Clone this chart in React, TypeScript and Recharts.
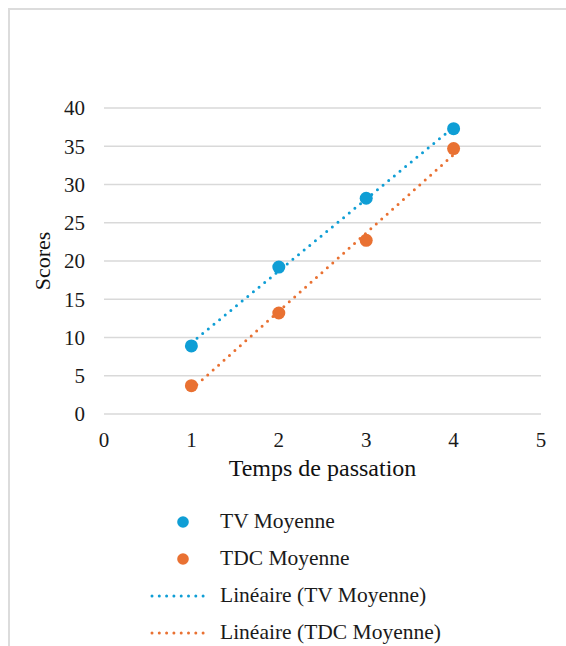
import {
  ComposedChart,
  Scatter,
  Line,
  XAxis,
  YAxis,
  CartesianGrid,
  Legend,
} from 'recharts';

// Temps de passation (x) and mean scores
const passations = [1, 2, 3, 4];
const tvMoyenne = [8.9, 19.2, 28.2, 37.3];
const tdcMoyenne = [3.7, 13.2, 22.7, 34.7];

// linear trendlines, end points
const trendX = [1, 4];
const tvTrend = [9.3, 37.5];
const tdcTrend = [3.2, 33.9];

const xTicks = [0, 1, 2, 3, 4, 5];
const yTicks = [0, 5, 10, 15, 20, 25, 30, 35, 40];

const BLUE = '#0F9ED5';
const ORANGE = '#E97132';
const FONT = "'Liberation Serif', 'DejaVu Serif', serif";

const toPoints = (xs: number[], ys: number[]) =>
  xs.map((x, i) => ({ x, y: ys[i] }));

const tvData = toPoints(passations, tvMoyenne);
const tdcData = toPoints(passations, tdcMoyenne);
const tvTrendData = toPoints(trendX, tvTrend);
const tdcTrendData = toPoints(trendX, tdcTrend);

const legendItems = [
  { name: 'TV Moyenne', color: BLUE, kind: 'dot' },
  { name: 'TDC Moyenne', color: ORANGE, kind: 'dot' },
  { name: 'Linéaire (TV Moyenne)', color: BLUE, kind: 'line' },
  { name: 'Linéaire (TDC Moyenne)', color: ORANGE, kind: 'line' },
];

const dotShape = (color: string) => (props: any) =>
  <circle cx={props.cx} cy={props.cy} r={6.5} fill={color} />;

const CustomLegend = () => (
  <div style={{ fontFamily: FONT, fontSize: 21.5, color: '#1a1a1a' }}>
    {legendItems.map((item) => (
      <div
        key={item.name}
        style={{ display: 'flex', alignItems: 'center', height: 37 }}
      >
        <svg width={61} height={14} style={{ marginRight: 9 }}>
          {item.kind === 'dot' ? (
            <circle cx={33} cy={7} r={5.8} fill={item.color} />
          ) : (
            <line
              x1={2}
              y1={7}
              x2={60}
              y2={7}
              stroke={item.color}
              strokeWidth={3}
              strokeDasharray='0 7.3'
              strokeLinecap='round'
            />
          )}
        </svg>
        <span>{item.name}</span>
      </div>
    ))}
  </div>
);

export default function App() {
  return (
    <div style={{ position: 'relative', width: 566, height: 646 }}>
      <style>{'body{margin:0;overflow:hidden;}'}</style>
      <div
        style={{
          position: 'absolute',
          left: 8,
          top: 8,
          width: 600,
          height: 700,
          borderLeft: '2px solid #dcdcdc',
          borderTop: '2px solid #dcdcdc',
        }}
      />
      <ComposedChart
        width={566}
        height={646}
        margin={{ top: 108, right: 25, left: 24, bottom: 162 }}
        style={{ fontFamily: FONT }}
      >
        <CartesianGrid vertical={false} stroke='#d9d9d9' strokeWidth={1.4} />
        <XAxis
          dataKey='x'
          type='number'
          domain={[0, 5]}
          ticks={xTicks}
          axisLine={false}
          tickLine={false}
          tickSize={6}
          tickMargin={12}
          height={70}
          tick={{ fontSize: 21, fill: '#1a1a1a', fontFamily: FONT }}
          label={{
            value: 'Temps de passation',
            position: 'insideBottom',
            offset: 8,
            fontSize: 24,
            fill: '#111',
            fontFamily: FONT,
          }}
        />
        <YAxis
          dataKey='y'
          type='number'
          domain={[0, 40]}
          ticks={yTicks}
          axisLine={false}
          tickLine={false}
          tickSize={6}
          tickMargin={13}
          width={80}
          tick={{ fontSize: 21, fill: '#1a1a1a', fontFamily: FONT }}
          label={{
            value: 'Scores',
            angle: -90,
            position: 'insideLeft',
            offset: 18,
            fontSize: 22,
            fill: '#111',
            fontFamily: FONT,
            style: { textAnchor: 'middle' },
          }}
        />
        <Line
          data={tvTrendData}
          dataKey='y'
          stroke={BLUE}
          strokeWidth={3}
          strokeDasharray='0 7.3'
          strokeLinecap='round'
          dot={false}
          activeDot={false}
          legendType='none'
          isAnimationActive={false}
        />
        <Line
          data={tdcTrendData}
          dataKey='y'
          stroke={ORANGE}
          strokeWidth={3}
          strokeDasharray='0 7.3'
          strokeLinecap='round'
          dot={false}
          activeDot={false}
          legendType='none'
          isAnimationActive={false}
        />
        <Scatter
          data={tvData}
          dataKey='y'
          fill={BLUE}
          shape={dotShape(BLUE)}
          isAnimationActive={false}
        />
        <Scatter
          data={tdcData}
          dataKey='y'
          fill={ORANGE}
          shape={dotShape(ORANGE)}
          isAnimationActive={false}
        />
        <Legend
          layout='vertical'
          align='center'
          verticalAlign='middle'
          content={<CustomLegend />}
          wrapperStyle={{ top: 503, left: 150, width: 'auto' }}
        />
      </ComposedChart>
    </div>
  );
}
